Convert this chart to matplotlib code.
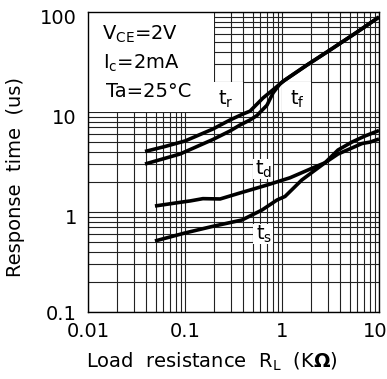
import matplotlib
matplotlib.use("Agg")
import matplotlib.pyplot as plt
from matplotlib.patches import Rectangle
from matplotlib.transforms import ScaledTranslation

# ---- data ----
tr_x = [0.0387, 0.0622, 0.1, 0.194, 0.291, 0.396, 0.468, 0.637, 0.888, 1.02, 1.81, 3.13, 5.66, 10.0]
tr_y = [4.03, 4.52, 5.13, 6.76, 8.32, 9.55, 10.2, 13.8, 18.0, 20.2, 29.5, 41.7, 61.0, 89.0]

tf_x = [0.0387, 0.0888, 0.194, 0.291, 0.369, 0.468, 0.552, 0.700, 0.808, 0.953, 1.074, 1.81, 3.13, 5.66, 10.0]
tf_y = [3.02, 3.80, 5.31, 6.46, 7.41, 8.32, 9.23, 11.7, 15.5, 19.1, 20.9, 29.5, 41.7, 61.0, 89.0]

td_x = [0.049, 0.1, 0.113, 0.153, 0.23, 0.369, 0.70, 1.21, 2.19, 2.78, 3.78, 5.27, 6.68, 8.08, 10.0]
td_y = [1.148, 1.27, 1.29, 1.36, 1.35, 1.55, 1.86, 2.20, 2.82, 3.11, 3.80, 4.37, 4.84, 5.0, 5.37]

ts_x = [0.049, 0.1, 0.190, 0.387, 0.622, 0.888, 1.074, 1.60, 2.78, 3.78, 5.27, 7.16, 10.0]
ts_y = [0.513, 0.617, 0.716, 0.832, 1.047, 1.318, 1.43, 2.09, 3.11, 4.17, 5.01, 5.75, 6.53]

x_ticks = [0.01, 0.1, 1, 10]
x_ticklabels = ["0.01", "0.1", "1", "10"]
y_ticks = [0.1, 1, 10, 100]
y_ticklabels = ["0.1", "1", "10", "100"]

conditions = [r"$\mathrm{V_{CE}}$=2V", r"$\mathrm{I_c}$=2mA", "Ta=25°C"]

# ---- figure ----
W, H = 387, 379
fig = plt.figure(figsize=(W / 100, H / 100), dpi=100)
ax = fig.add_axes([88 / W, 1 - 312 / H, (379 - 88) / W, (312 - 12) / H])
ax.set_xscale("log")
ax.set_yscale("log")
ax.set_xlim(0.01, 10)
ax.set_ylim(0.1, 100)
ax.set_axisbelow(True)
ax.grid(True, which="both", color="#222222", linewidth=0.8)

for s in ax.spines.values():
    s.set_linewidth(1.0)
    s.set_color("black")

ax.set_xticks(x_ticks)
ax.set_xticklabels(x_ticklabels)
ax.set_yticks(y_ticks)
ax.set_yticklabels(y_ticklabels)
ax.tick_params(which="both", length=0)
ax.tick_params(axis="x", labelsize=14, pad=7)
ax.tick_params(axis="y", labelsize=14, pad=8)
ax.xaxis.set_minor_formatter(plt.NullFormatter())
ax.yaxis.set_minor_formatter(plt.NullFormatter())

# small offsets of tick labels as in reference
lab = ax.get_xticklabels()[-1]
lab.set_transform(lab.get_transform() + ScaledTranslation(-4 / 100, 0, fig.dpi_scale_trans))
for l in ax.get_yticklabels()[1:]:
    l.set_transform(l.get_transform() + ScaledTranslation(0, -4 / 100, fig.dpi_scale_trans))

# white areas masking the grid
ax.add_patch(Rectangle((0.01, 10), 0.2 - 0.01, 90, facecolor="white", edgecolor="none", zorder=1))
ax.add_patch(Rectangle((0.2, 10), 0.2, 10, facecolor="white", edgecolor="none", zorder=1))
ax.add_patch(Rectangle((1.0, 10), 1.0, 10, facecolor="white", edgecolor="none", zorder=1))
ax.add_patch(Rectangle((0.5, 2.15), 0.3, 1.25, facecolor="white", edgecolor="none", zorder=1))
ax.add_patch(Rectangle((0.5, 0.48), 0.3, 0.27, facecolor="white", edgecolor="none", zorder=1))

# curves
for xs, ys in [(tr_x, tr_y), (tf_x, tf_y), (td_x, td_y), (ts_x, ts_y)]:
    ax.plot(xs, ys, color="black", linewidth=2.6, solid_capstyle="butt", zorder=2)

# curve labels
lab_kw = dict(fontsize=14, color="black", ha="left", va="baseline", zorder=3)
ax.text(0.219, 11.7, r"$\mathrm{t_r}$", **lab_kw)
ax.text(1.21, 11.7, r"$\mathrm{t_f}$", **lab_kw)
ax.text(0.527, 2.34, r"$\mathrm{t_d}$", **lab_kw)
ax.text(0.54, 0.525, r"$\mathrm{t_s}$", **lab_kw)

# condition text
for txt, (px, py) in zip(conditions, [(102, 40), (103, 69), (106, 97)]):
    fig.text(px / W, 1 - py / H, txt, fontsize=14, ha="left", va="baseline")

# axis labels
fig.text(16 / W, 1 - 177 / H, "Response  time  (us)", fontsize=14, rotation=90,
         ha="center", va="center")
fig.text(212 / W, 1 - 362 / H, r"Load  resistance  $\mathrm{R_L}$  (K$\mathbf{\Omega}$)",
         fontsize=14, ha="center", va="center")

fig.savefig("out.png", dpi=100)
